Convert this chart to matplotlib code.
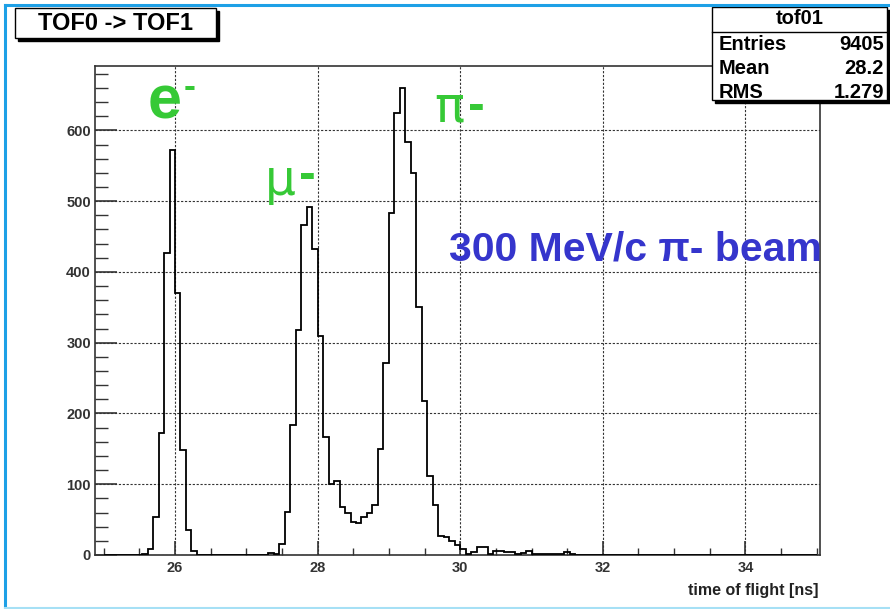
import numpy as np
import matplotlib
matplotlib.use("Agg")
import matplotlib.pyplot as plt
from matplotlib.patches import Rectangle
from matplotlib.lines import Line2D
from matplotlib.ticker import MultipleLocator

# ---------------- data ----------------
bin_lo, bin_hi, n_bins = 25.0, 35.0, 130
e_first_bin = 7
e_counts = [2, 8, 54, 172, 427, 573, 370, 148, 35, 5]
mupi_first_bin = 30
mupi_counts = [3, 1, 16, 61, 184, 318, 467, 492, 433, 310,
               167, 100, 104, 68, 59, 47, 45, 54, 59, 70,
               150, 271, 483, 625, 660, 584, 540, 351, 217, 112,
               71, 27, 26, 20, 14, 8]
tail_first_bin = 66
tail_counts = [1, 4, 12, 12, 1, 6, 6, 4, 4, 1,
               3, 5, 2, 2, 1, 1, 1, 1, 4, 1]

hist_name = "tof01"
stat_labels = ["Entries", "Mean", "RMS"]
stat_values = ["9405", "28.2", "1.279"]
title_text = "TOF0 -> TOF1"
xlabel_text = "time of flight [ns]"
x_range = (24.878, 35.046)
y_range = (0, 691)

# ---------------- figure ----------------
W, H = 890, 609
plt.rcParams['font.family'] = ['Liberation Sans', 'DejaVu Sans']
fig = plt.figure(figsize=(W / 100, H / 100), dpi=100)

def fx(px):
    return px / W

def fy(py):
    return 1 - py / H

ax = fig.add_axes([fx(95), fy(555), (820 - 95) / W, (555 - 66) / H])

edges = np.linspace(bin_lo, bin_hi, n_bins + 1)
counts = np.zeros(n_bins)
counts[e_first_bin:e_first_bin + len(e_counts)] = e_counts
counts[mupi_first_bin:mupi_first_bin + len(mupi_counts)] = mupi_counts
counts[tail_first_bin:tail_first_bin + len(tail_counts)] = tail_counts

ax.stairs(counts, edges, color='black', lw=1.3, zorder=3)

ax.set_xlim(*x_range)
ax.set_ylim(*y_range)

ax.xaxis.set_major_locator(MultipleLocator(2))
ax.xaxis.set_minor_locator(MultipleLocator(0.5))
ax.yaxis.set_major_locator(MultipleLocator(100))
ax.yaxis.set_minor_locator(MultipleLocator(20))

ax.grid(True, which='major', color='#333333', linestyle=(0, (2.0, 1.5)), lw=0.8)
ax.set_axisbelow(True)

ax.tick_params(axis='x', which='major', direction='in', length=10, width=1.2,
               labelsize=10.5, pad=4, colors='#333333')
ax.tick_params(axis='x', which='minor', direction='in', length=5, width=1.0, colors='#333333')
ax.tick_params(axis='y', which='major', direction='in', length=16, width=1.2,
               labelsize=10.5, pad=3, colors='#333333')
ax.tick_params(axis='y', which='minor', direction='in', length=9, width=1.0, colors='#333333')
for lab in ax.get_xticklabels() + ax.get_yticklabels():
    lab.set_fontweight('bold')
    lab.set_color('#333333')

for s in ax.spines.values():
    s.set_color('#333333')
    s.set_linewidth(1.2)

fig.text(fx(819), fy(590), xlabel_text, ha='right', va='center',
         fontsize=11.5, fontweight='bold', color='#222222')

# ---------------- annotations ----------------
green = '#36C936'
fig.text(fx(165), fy(103), "e", ha='center', va='center', fontsize=44,
         fontweight='bold', color=green)
fig.text(fx(190), fy(87), "-", ha='center', va='center', fontsize=26,
         fontweight='bold', color=green)
fig.text(fx(280), fy(181), "\u03bc", ha='center', va='center', fontsize=35,
         color=green, family=['DejaVu Sans'])
fig.text(fx(307), fy(176), "-", ha='center', va='center', fontsize=36,
         fontweight='bold', color=green)
fig.text(fx(449), fy(107), "\u03c0", ha='center', va='center', fontsize=36,
         color=green, family=['DejaVu Sans'])
fig.text(fx(476), fy(107), "-", ha='center', va='center', fontsize=36,
         fontweight='bold', color=green)

fig.text(fx(449), fy(250), "300 MeV/c \u03c0- beam", ha='left', va='center',
         fontsize=29.5, fontweight='bold', color='#3535CC')

# ---------------- title box ----------------
fig.add_artist(Rectangle((fx(18), fy(41)), (216 - 15) / W, (38 - 8) / H,
                         transform=fig.transFigure, facecolor='black',
                         edgecolor='black', zorder=5))
fig.add_artist(Rectangle((fx(15), fy(38)), (216 - 15) / W, (38 - 8) / H,
                         transform=fig.transFigure, facecolor='white',
                         edgecolor='black', lw=1.0, zorder=6))
fig.text(fx(116), fy(23), title_text, ha='center', va='center', fontsize=17,
         fontweight='bold', color='black', zorder=7)

# ---------------- stats box ----------------
fig.add_artist(Rectangle((fx(715), fy(103)), (889 - 712) / W, (100 - 7) / H,
                         transform=fig.transFigure, facecolor='black',
                         edgecolor='black', zorder=5))
fig.add_artist(Rectangle((fx(712), fy(100)), (887 - 712) / W, (100 - 7) / H,
                         transform=fig.transFigure, facecolor='white',
                         edgecolor='black', lw=1.0, zorder=6))
fig.add_artist(Line2D([fx(712), fx(887)], [fy(32), fy(32)],
                      transform=fig.transFigure, color='black', lw=1.0, zorder=7))
fig.text(fx(800), fy(19), hist_name, ha='center', va='center', fontsize=14.5,
         fontweight='bold', zorder=8)
for lab, val, py in zip(stat_labels, stat_values, [44, 68, 93]):
    fig.text(fx(719), fy(py), lab, ha='left', va='center', fontsize=14.5,
             fontweight='bold', zorder=8)
    fig.text(fx(884), fy(py), val, ha='right', va='center', fontsize=14.5,
             fontweight='bold', zorder=8)

# ---------------- slide frame ----------------
fig.add_artist(Line2D([fx(5), fx(5)], [fy(5), fy(608)], transform=fig.transFigure,
                      color='#1EA0E6', lw=2.2, zorder=10))
fig.add_artist(Line2D([fx(5), fx(890)], [fy(5), fy(5)], transform=fig.transFigure,
                      color='#1EA0E6', lw=2.2, zorder=10))
fig.add_artist(Line2D([fx(5), fx(890)], [fy(608), fy(608)], transform=fig.transFigure,
                      color='#A6E0F5', lw=1.5, zorder=10))

fig.savefig("out.png", dpi=100)
